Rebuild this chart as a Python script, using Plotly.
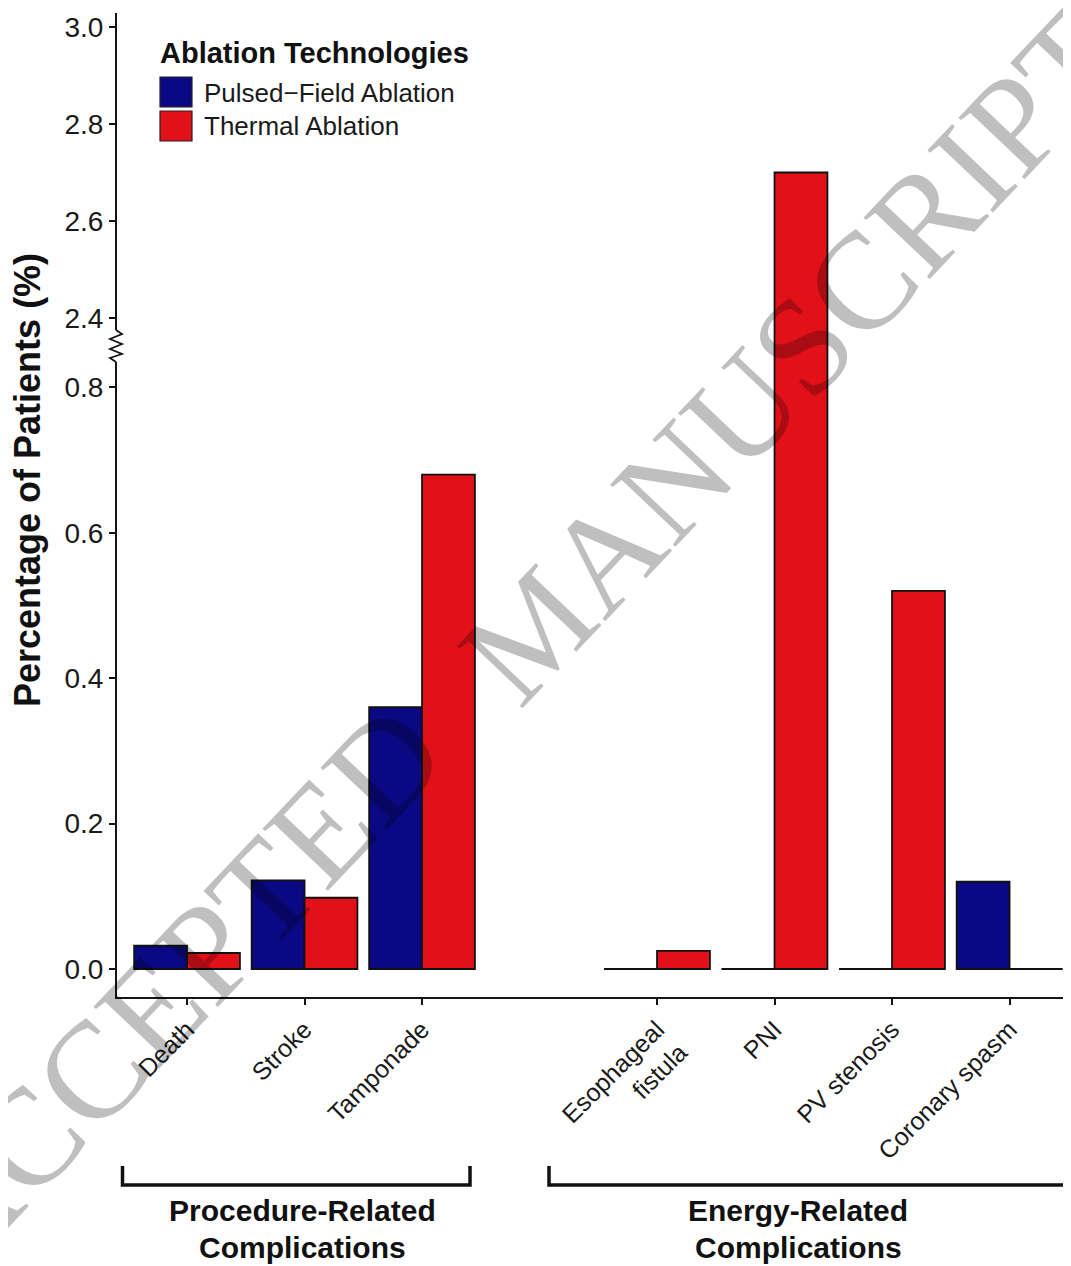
import plotly.graph_objects as go

# ---------------- data ----------------
categories = ["Death", "Stroke", "Tamponade", "Esophageal<br>fistula", "PNI", "PV stenosis", "Coronary spasm"]
positions = [0, 1, 2, 4, 5, 6, 7]
pfa_values = [0.032, 0.122, 0.36, 0.0, 0.0, 0.0, 0.12]
thermal_values = [0.022, 0.098, 0.68, 0.025, 2.70, 0.52, 0.0]
series_names = ["Pulsed\u2212Field Ablation", "Thermal Ablation"]
series_colors = ["#0a0882", "#e21018"]
legend_title = "Ablation Technologies"
lower_ticks = [0.0, 0.2, 0.4, 0.6, 0.8]
upper_ticks = [2.4, 2.6, 2.8, 3.0]
group_titles = [["Procedure-Related", "Complications"], ["Energy-Related", "Complications"]]
y_title = "Percentage of Patients (%)"
watermark_words = ["ACCEPTED", "MANUSCRIPT"]

# ---------------- geometry (page pixels; page body has an 8px margin) ----------------
PAGE_W, PAGE_H = 1071, 1266
BODY = 8
FIG_W, FIG_H = PAGE_W - BODY, PAGE_H - BODY
PLOT_L, PLOT_T, PLOT_B, PLOT_R = 117, 13, 997, 1071
PW = PLOT_R - PLOT_L
PH = PLOT_B - PLOT_T
ML = PLOT_L - BODY
MT = PLOT_T - BODY
MB = FIG_H - MT - PH
MR = FIG_W - ML - PW
SPLIT = (PLOT_B - 346) / PH
BAR_W = 0.45
FONT = "Liberation Sans, Arial, sans-serif"
AXC = "#151515"


def xp(px):
    return (px - PLOT_L) / PW


def yp(py):
    return (PLOT_B - py) / PH


series = [pfa_values, thermal_values]
offsets = [-BAR_W, 0.0]

fig = go.Figure()
for axis in ["y", "y2"]:
    for name, vals, col, off in zip(series_names, series, series_colors, offsets):
        fig.add_trace(go.Bar(
            x=positions, y=vals, name=name, width=BAR_W, offset=off,
            marker=dict(color=col, line=dict(color="#111111", width=1.8)),
            xaxis="x", yaxis=axis, showlegend=False,
        ))

# zero-valued bars are drawn as a flat outline at 0
for vals, off in zip(series, offsets):
    xs, ys = [], []
    for p, v in zip(positions, vals):
        if v == 0:
            xs += [p + off, p + off + BAR_W, None]
            ys += [v, v, None]
    fig.add_trace(go.Scatter(x=xs, y=ys, mode="lines", line=dict(color="#111111", width=2),
                             xaxis="x", yaxis="y", showlegend=False, hoverinfo="skip"))

axis_common = dict(showline=True, linewidth=2, linecolor=AXC, ticks="outside", ticklen=6,
                   tickwidth=1.5, tickcolor=AXC, showgrid=False, zeroline=False,
                   tickfont=dict(family=FONT, size=28, color="#1a1a1a"))

fig.update_layout(
    width=FIG_W, height=FIG_H,
    margin=dict(l=ML, r=MR, t=MT, b=MB, pad=0),
    paper_bgcolor="white", plot_bgcolor="white",
    barmode="overlay",
    showlegend=False,
    xaxis=dict(range=[-0.596, 7.523], tickmode="array", tickvals=positions, ticktext=categories,
               tickangle=-45, anchor="y", showline=True, linewidth=2, linecolor=AXC,
               ticks="outside", ticklen=6, tickwidth=1.5, tickcolor=AXC, showgrid=False,
               zeroline=False, tickfont=dict(family=FONT, size=25, color="#1a1a1a")),
    yaxis=dict(domain=[0, SPLIT], range=[-0.0385, 0.8568], tickmode="array",
               tickvals=lower_ticks, tickformat=".1f", anchor="x", **axis_common),
    yaxis2=dict(domain=[SPLIT, 1], range=[2.3423, 3.0289], tickmode="array",
                tickvals=upper_ticks, tickformat=".1f", anchor="x", **axis_common),
)

shapes = []
# axis break marker
shapes.append(dict(type="line", xref="paper", yref="paper", x0=xp(116), x1=xp(116),
                   y0=yp(330), y1=yp(362), line=dict(color="white", width=6), layer="above"))
zig = [(116, 330), (122, 334), (110, 339), (122, 344), (110, 349), (122, 354), (110, 358), (116, 362)]
path = "M " + " L ".join(f"{xp(a):.5f},{yp(b):.5f}" for a, b in zig)
shapes.append(dict(type="path", xref="paper", yref="paper", path=path,
                   line=dict(color=AXC, width=1.8), layer="above"))

# legend swatches
for i, col in enumerate(series_colors):
    top = 77 + i * 34
    shapes.append(dict(type="rect", xref="paper", yref="paper", x0=xp(160), x1=xp(192),
                       y0=yp(top), y1=yp(top + 30), fillcolor=col,
                       line=dict(color="#222222", width=1.2), layer="above"))

# group brackets
for x0, x1 in [(122.5, 470), (549, 1100)]:
    shapes.append(dict(type="path", xref="paper", yref="paper",
                       path=f"M {xp(x0):.5f},{yp(1166):.5f} L {xp(x0):.5f},{yp(1185):.5f} "
                            f"L {xp(x1):.5f},{yp(1185):.5f} L {xp(x1):.5f},{yp(1166):.5f}",
                       line=dict(color="#111111", width=3.5), layer="above"))

annotations = []
annotations.append(dict(text=f"<b>{legend_title}</b>", xref="paper", yref="paper",
                        x=xp(158), y=yp(53), xanchor="left", yanchor="middle", showarrow=False,
                        font=dict(family=FONT, size=29, color="#111111")))
for i, name in enumerate(series_names):
    annotations.append(dict(text=name, xref="paper", yref="paper", x=xp(202), y=yp(93 + i * 33),
                            xanchor="left", yanchor="middle", showarrow=False,
                            font=dict(family=FONT, size=26, color="#1a1a1a")))

annotations.append(dict(text=f"<b>{y_title}</b>", xref="paper", yref="paper", x=xp(27), y=yp(480),
                        xanchor="center", yanchor="middle", textangle=-90, showarrow=False,
                        font=dict(family=FONT, size=36, color="#111111")))

for cx, lines in zip([302, 798], group_titles):
    for j, line in enumerate(lines):
        annotations.append(dict(text=f"<b>{line}</b>", xref="paper", yref="paper", x=xp(cx),
                                y=yp(1210 + j * 37), xanchor="center", yanchor="middle",
                                showarrow=False, font=dict(family=FONT, size=30, color="#111111")))

# watermark (two words along a slight arc)
for word, (cx, cy), ang in zip(watermark_words, [(172, 987), (792, 356)], [-46.5, -46.5]):
    annotations.append(dict(text=word, xref="paper", yref="paper", x=xp(cx), y=yp(cy),
                            xanchor="center", yanchor="middle", textangle=ang, showarrow=False,
                            font=dict(family="Liberation Serif, Times New Roman, serif", size=138,
                                      color="rgba(0,0,0,0.25)")))

fig.update_layout(shapes=shapes, annotations=annotations)
fig.write_html("out.html")
